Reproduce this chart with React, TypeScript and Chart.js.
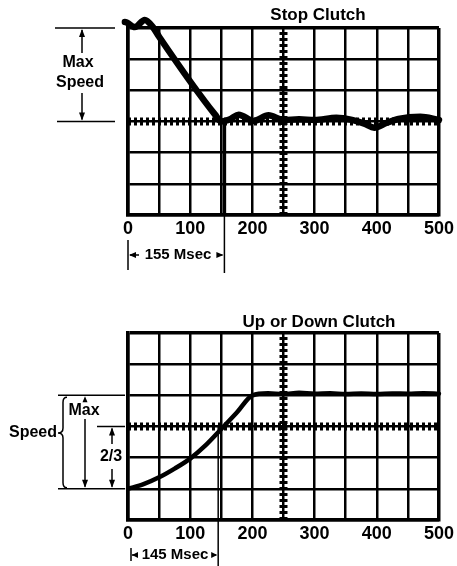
import React, { useEffect, useRef } from "react";
import { Chart, registerables } from "chart.js";

Chart.register(...registerables);

// ---- data ----
const X_LABELS = [0, 100, 200, 300, 400, 500];
const Y_ROWS = [0, 1, 2, 3, 4, 5, 6];

// Stop clutch trace (time in msec, scope divisions)
const STOP_X = [-13, -5, 11, 27, 40, 50, 140, 150, 165, 178, 202, 226, 250, 275, 300, 335, 360, 380, 396, 415, 435, 470, 500];
const STOP_Y = [5.94, 6.19, 6.03, 6.26, 6.03, 5.72, 3.22, 3.0, 3.08, 3.22, 3.02, 3.2, 3.05, 3.07, 3.05, 3.12, 3.05, 2.93, 2.8, 2.95, 3.08, 3.15, 3.05];
const STOP_MARK = 155;

// Up or down clutch trace
const UP_X = [0, 25, 50, 75, 100, 125, 150, 175, 200, 225, 250, 275, 300, 325, 350, 375, 400, 425, 450, 475, 500];
const UP_Y = [1.0, 1.15, 1.37, 1.65, 1.97, 2.4, 2.92, 3.45, 4.0, 4.07, 4.04, 4.08, 4.05, 4.07, 4.04, 4.06, 4.04, 4.06, 4.05, 4.07, 4.05];
const UP_MARK = 145;

const CENTER_X = 250;
const CENTER_Y = 3;
const X_MIN = 0, X_MAX = 500, Y_MIN = 0, Y_MAX = 6;

const TITLE_FONT = 'bold 17px "Liberation Sans", Arial, sans-serif';
const LABEL_FONT = 'bold 16px "Liberation Sans", Arial, sans-serif';
const TICK_FAMILY = '"Liberation Sans Narrow", "Liberation Sans", Arial, sans-serif';

function line(ctx: CanvasRenderingContext2D, x1: number, y1: number, x2: number, y2: number, w = 1.5) {
  ctx.lineWidth = w;
  ctx.beginPath();
  ctx.moveTo(x1, y1);
  ctx.lineTo(x2, y2);
  ctx.stroke();
}
function head(ctx: CanvasRenderingContext2D, x: number, y: number, dir: "up" | "down" | "left" | "right", len = 8, hw = 3) {
  ctx.beginPath();
  ctx.moveTo(x, y);
  if (dir === "up") { ctx.lineTo(x - hw, y + len); ctx.lineTo(x + hw, y + len); }
  if (dir === "down") { ctx.lineTo(x - hw, y - len); ctx.lineTo(x + hw, y - len); }
  if (dir === "left") { ctx.lineTo(x + len, y - hw); ctx.lineTo(x + len, y + hw); }
  if (dir === "right") { ctx.lineTo(x - len, y - hw); ctx.lineTo(x - len, y + hw); }
  ctx.closePath();
  ctx.fill();
}
function text(ctx: CanvasRenderingContext2D, s: string, x: number, y: number, font: string, align: CanvasTextAlign = "center") {
  ctx.font = font;
  ctx.textAlign = align;
  ctx.textBaseline = "middle";
  ctx.fillText(s, x, y);
}

const stopAnnot = {
  id: "stopAnnot",
  afterDraw(chart: any) {
    const ctx: CanvasRenderingContext2D = chart.ctx;
    const { x, y } = chart.scales;
    const yTop = y.getPixelForValue(Y_MAX);
    const yMid = y.getPixelForValue(CENTER_Y);
    const yBot = y.getPixelForValue(Y_MIN);
    const xl = chart.chartArea.left;
    const xm = x.getPixelForValue(STOP_MARK);
    ctx.save();
    ctx.strokeStyle = "#000";
    ctx.fillStyle = "#000";
    text(ctx, "Stop Clutch", 318, 15, TITLE_FONT);
    line(ctx, 55, yTop, 115, yTop);
    line(ctx, 57, yMid, 115, yMid);
    line(ctx, 82, yTop + 2, 82, 53);
    head(ctx, 82, yTop + 1, "up");
    line(ctx, 82, 93, 82, yMid - 2);
    head(ctx, 82, yMid - 1, "down");
    text(ctx, "Max", 78, 63, LABEL_FONT);
    text(ctx, "Speed", 80, 83, LABEL_FONT);
    line(ctx, xm, yMid, xm, yBot, 3.5);
    line(ctx, xm, yBot, xm, 273, 1.5);
    line(ctx, xl, 240, xl, 270, 1.5);
    text(ctx, "155 Msec", 178, 255, 'bold 15px "Liberation Sans", Arial, sans-serif');
    line(ctx, xl + 2, 255, 139, 255);
    head(ctx, xl + 1, 255, "left", 7, 3);
    line(ctx, 217, 255, xm - 2, 255);
    head(ctx, xm - 1, 255, "right", 7, 3);
    ctx.restore();
  },
};

const upAnnot = {
  id: "upAnnot",
  afterDraw(chart: any) {
    const ctx: CanvasRenderingContext2D = chart.ctx;
    const { x, y } = chart.scales;
    const yMax = y.getPixelForValue(4);
    const yMid = y.getPixelForValue(CENTER_Y);
    const yLow = y.getPixelForValue(1);
    const xl = chart.chartArea.left;
    const xm = x.getPixelForValue(UP_MARK);
    ctx.save();
    ctx.strokeStyle = "#000";
    ctx.fillStyle = "#000";
    text(ctx, "Up or Down Clutch", 319, 39, TITLE_FONT);
    line(ctx, 58, yMax, 125, yMax);
    line(ctx, 97, yMid, 125, yMid);
    line(ctx, 58, yLow, 125, yLow);
    // brace
    ctx.lineWidth = 1.5;
    ctx.beginPath();
    const bx = 63, cy = 150;
    ctx.moveTo(bx + 4, yMax + 2);
    ctx.quadraticCurveTo(bx, yMax + 2, bx, yMax + 7);
    ctx.lineTo(bx, cy - 5);
    ctx.quadraticCurveTo(bx, cy, bx - 5, cy);
    ctx.quadraticCurveTo(bx, cy, bx, cy + 5);
    ctx.lineTo(bx, yLow - 6);
    ctx.quadraticCurveTo(bx, yLow - 1, bx + 4, yLow - 1);
    ctx.stroke();
    text(ctx, "Speed", 57, cy, LABEL_FONT, "right");
    // max arrow
    head(ctx, 85, yMax + 1, "up", 6, 2.5);
    text(ctx, "Max", 84, 128, LABEL_FONT);
    line(ctx, 85, 136, 85, yLow - 2);
    head(ctx, 85, yLow - 1, "down");
    // 2/3 arrow
    line(ctx, 112, yMid + 2, 112, 161);
    head(ctx, 112, yMid + 1, "up");
    text(ctx, "2/3", 111, 174, LABEL_FONT);
    line(ctx, 112, 186, 112, yLow - 2);
    head(ctx, 112, yLow - 1, "down");
    // time marker
    line(ctx, xm, yMid, xm, 283, 1.5);
    line(ctx, xl + 3, 265, xl + 3, 278, 1.5);
    text(ctx, "145 Msec", 175, 272, 'bold 15px "Liberation Sans", Arial, sans-serif');
    line(ctx, xl + 4, 272, 136, 272);
    head(ctx, xl + 4, 272, "left", 6, 3);
    line(ctx, 212, 272, xm - 2, 272);
    head(ctx, xm - 1, 272, "right", 6, 3);
    ctx.restore();
  },
};

function makeConfig(xs: number[], ys: number[], curveWidth: number, padding: any, plugin: any): any {
  const bead = {
    borderColor: "#000",
    borderWidth: 8,
    borderDash: [3, 3],
    borderCapStyle: "butt",
    pointRadius: 0,
    fill: false,
  };
  return {
    type: "line",
    data: {
      datasets: [
        {
          data: xs.map((v, i) => ({ x: v, y: ys[i] })),
          borderColor: "#000",
          borderWidth: curveWidth,
          pointRadius: 0,
          cubicInterpolationMode: "monotone",
          fill: false,
          clip: false,
          borderCapStyle: "round",
          borderJoinStyle: "round",
        },
        { ...bead, data: [{ x: X_MIN, y: CENTER_Y }, { x: X_MAX, y: CENTER_Y }] },
        { ...bead, data: [{ x: CENTER_X, y: Y_MIN }, { x: CENTER_X, y: Y_MAX }] },
      ],
    },
    options: {
      responsive: false,
      animation: false,
      devicePixelRatio: 1,
      layout: { padding },
      plugins: { legend: { display: false }, tooltip: { enabled: false }, title: { display: false } },
      scales: {
        x: {
          type: "linear",
          min: X_MIN,
          max: X_MAX,
          afterFit: (s: any) => { s.height = 30; },
          ticks: {
            stepSize: 50,
            autoSkip: false,
            maxRotation: 0,
            padding: 3,
            color: "#000",
            font: { family: TICK_FAMILY, size: 18, weight: "bold" },
            callback: (v: number) => (X_LABELS.includes(v) ? String(v) : ""),
          },
          grid: { color: "#000", lineWidth: (c: any) => (c.tick && c.tick.value === X_MAX ? 3.5 : 2.5), drawTicks: false },
          border: { display: true, color: "#000", width: 3.5 },
        },
        y: {
          type: "linear",
          min: Y_MIN,
          max: Y_MAX,
          afterFit: (s: any) => { s.width = 0; },
          afterBuildTicks: (s: any) => { s.ticks = Y_ROWS.map((v) => ({ value: v })); },
          ticks: { display: false },
          grid: { color: "#000", lineWidth: (c: any) => (c.tick && c.tick.value === Y_MAX ? 3.5 : 2.5), drawTicks: false },
          border: { display: true, color: "#000", width: 3.5 },
        },
      },
    },
    plugins: [plugin],
  };
}

export default function App() {
  const c1 = useRef<HTMLCanvasElement>(null);
  const c2 = useRef<HTMLCanvasElement>(null);
  useEffect(() => {
    const ch1 = new Chart(c1.current!, makeConfig(STOP_X, STOP_Y, 6.5, { left: 128, right: 14, top: 28, bottom: 38 }, stopAnnot));
    const ch2 = new Chart(c2.current!, makeConfig(UP_X, UP_Y, 4.5, { left: 128, right: 11, top: 50, bottom: 16 }, upAnnot));
    return () => { ch1.destroy(); ch2.destroy(); };
  }, []);
  return (
    <div style={{ position: "absolute", left: 0, top: 0, width: 457, height: 566, background: "#fff" }}>
      <canvas ref={c1} width={457} height={283} style={{ position: "absolute", left: 0, top: 0, width: 457, height: 283 }} />
      <canvas ref={c2} width={457} height={283} style={{ position: "absolute", left: 0, top: 283, width: 457, height: 283 }} />
    </div>
  );
}
